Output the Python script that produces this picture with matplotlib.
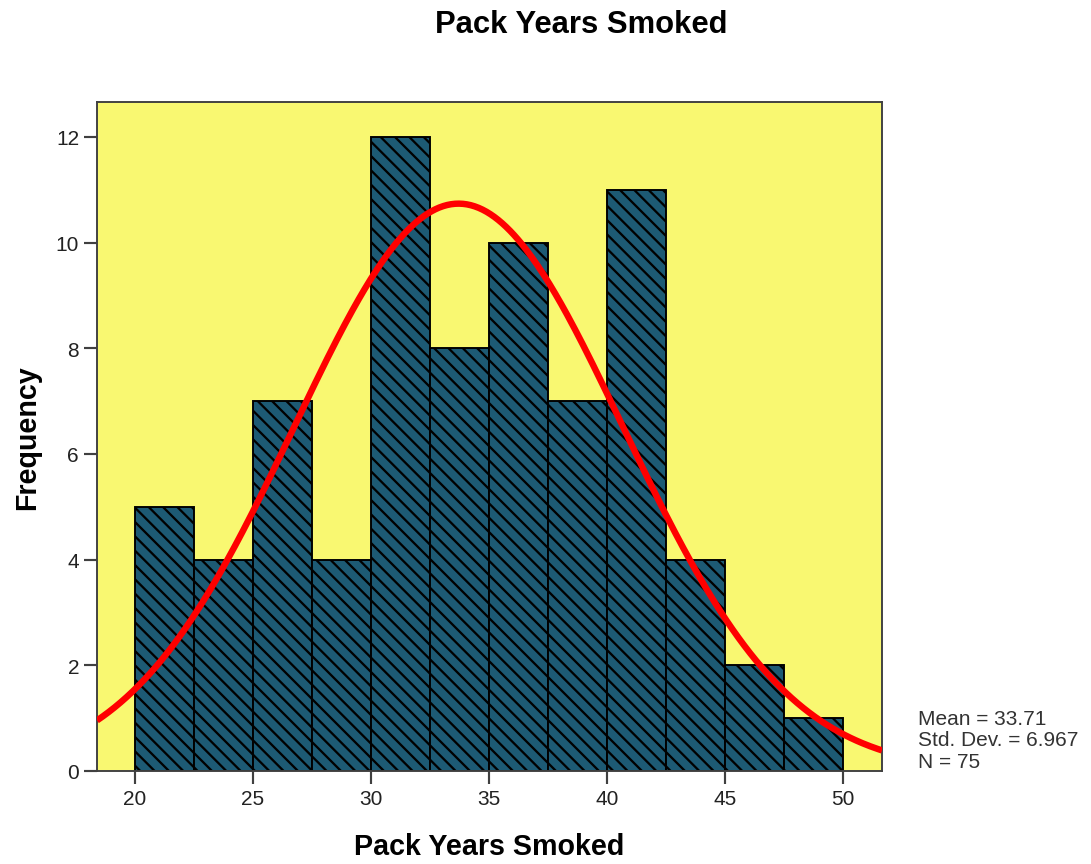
import matplotlib
matplotlib.use("Agg")
import matplotlib.pyplot as plt
import numpy as np

# histogram data
bin_edges = [20, 22.5, 25, 27.5, 30, 32.5, 35, 37.5, 40, 42.5, 45, 47.5, 50]
counts = [5, 4, 7, 4, 12, 8, 10, 7, 11, 4, 2, 1]
mean = 33.71
std_dev = 6.967
n_obs = 75
x_ticks = [20, 25, 30, 35, 40, 45, 50]
y_ticks = [0, 2, 4, 6, 8, 10, 12]

DPI = 86
plt.rcParams['font.family'] = ['Liberation Sans', 'DejaVu Sans']
plt.rcParams['hatch.linewidth'] = 1.9
plt.rcParams['hatch.color'] = 'black'

fig = plt.figure(figsize=(1091 / DPI, 865 / DPI), dpi=DPI)
ax = fig.add_axes([97 / 1091, 1 - 772 / 865, 785 / 1091, 669 / 865])
ax.set_facecolor('#f9f871')

widths = np.diff(bin_edges)
ax.bar(bin_edges[:-1], counts, width=widths, align='edge',
       color='#1d5a74', edgecolor='black', linewidth=1.6, hatch='\\\\', zorder=2)

# normal curve scaled to the histogram
xs = np.linspace(18.39, 51.65, 400)
bw = bin_edges[1] - bin_edges[0]
ys = n_obs * bw / (std_dev * np.sqrt(2 * np.pi)) * np.exp(-0.5 * ((xs - mean) / std_dev) ** 2)
ax.plot(xs, ys, color='#ff0000', linewidth=5.4, zorder=3, solid_capstyle='butt')

ax.set_xlim(18.39, 51.65)
ax.set_ylim(0, 12.66)
ax.set_xticks(x_ticks)
ax.set_yticks(y_ticks)
ax.tick_params(direction='out', length=11, width=1.8, color='#404040',
               labelsize=17.5, labelcolor='#222222', pad=4)
for side in ['left', 'bottom', 'top', 'right']:
    ax.spines[side].set_color('#404040')
    ax.spines[side].set_linewidth(1.6)

ax.set_xlabel('Pack Years Smoked', fontsize=24, fontweight='bold', labelpad=20)
ax.set_ylabel('Frequency', fontsize=24, fontweight='bold', labelpad=12)

fig.text(581 / 1091, 1 - 25 / 865, 'Pack Years Smoked', ha='center', va='center',
         fontsize=26, fontweight='bold')

stats = 'Mean = %.2f\nStd. Dev. = %.3f\nN = %d' % (mean, std_dev, n_obs)
fig.text(918 / 1091, 1 - 741 / 865, stats, ha='left', va='center',
         fontsize=17.5, color='#333333', linespacing=1.18)

fig.savefig('out.png', dpi=DPI)
